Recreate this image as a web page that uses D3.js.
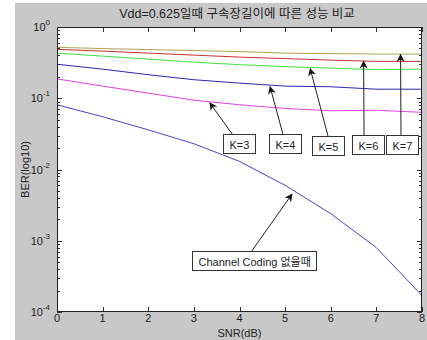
<!DOCTYPE html>
<html>
<head>
<meta charset="utf-8">
<script src="https://cdn.jsdelivr.net/npm/d3@7"></script>
<style>
  html, body { margin: 0; padding: 0; background: #ffffff; }
  svg { display: block; }
  text { font-family: "Liberation Sans", Arial, "Noto Sans CJK KR", sans-serif; }
</style>
</head>
<body>
<svg id="chart" width="427" height="340"></svg>
<script>
// SNR sample points (dB)
const snr = [0, 1, 2, 3, 4, 5, 6, 7, 8];

// BER per constraint length K, and without channel coding
const berK3 = [0.187, 0.148, 0.118, 0.094, 0.081, 0.072, 0.0667, 0.0678, 0.0635];
const berK4 = [0.300, 0.256, 0.214, 0.182, 0.163, 0.148, 0.145, 0.134, 0.134];
const berK5 = [0.430, 0.390, 0.354, 0.321, 0.296, 0.278, 0.265, 0.252, 0.256];
const berK6 = [0.485, 0.459, 0.430, 0.403, 0.378, 0.360, 0.343, 0.329, 0.329];
const berK7 = [0.518, 0.498, 0.482, 0.467, 0.452, 0.430, 0.423, 0.417, 0.417];
const berUncoded = [0.081, 0.055, 0.036, 0.023, 0.013, 0.006, 0.0024, 0.0008, 0.00017];

// Tick values
const xTicks = [0, 1, 2, 3, 4, 5, 6, 7, 8];
const yTickExponents = [0, -1, -2, -3, -4];

// Annotation labels: text, box top-left (SNR, BER), arrow tail and head (SNR, BER)
const noteLabels = ["K=3", "K=4", "K=5", "K=6", "K=7", "Channel Coding 없을때"];
const noteBoxX = [3.64, 4.65, 5.59, 6.47, 7.21, 2.96];
const noteBoxY = [0.0315, 0.0315, 0.0295, 0.0305, 0.0305, 0.00072];
const noteTailX = [3.84, 4.95, 5.94, 6.73, 7.54, 4.27];
const noteTailY = [0.0315, 0.0315, 0.0295, 0.0305, 0.0305, 0.00072];
const noteHeadX = [3.35, 4.67, 5.55, 6.72, 7.53, 5.15];
const noteHeadY = [0.086, 0.145, 0.26, 0.33, 0.41, 0.0045];

const svg = d3.select("#chart");
const W = 427, H = 340;
const plot = { left: 57, right: 422, top: 27, bottom: 312 };

// figure background
svg.append("rect").attr("x", 15).attr("y", 3).attr("width", W - 15).attr("height", H - 3)
  .attr("fill", "#c8c8c8");

const x = d3.scaleLinear().domain([0, 8]).range([plot.left, plot.right]);
const y = d3.scaleLog().domain([1e-4, 1]).range([plot.bottom, plot.top]);

// axes area
svg.append("rect").attr("x", plot.left).attr("y", plot.top)
  .attr("width", plot.right - plot.left).attr("height", plot.bottom - plot.top)
  .attr("fill", "#ffffff");

// ticks (inward on all four sides)
const tickG = svg.append("g").attr("stroke", "#333").attr("stroke-width", 1);
const majorLen = 5, minorLen = 3;
xTicks.forEach(t => {
  const px = Math.round(x(t)) + 0.5;
  tickG.append("line").attr("x1", px).attr("x2", px).attr("y1", plot.bottom).attr("y2", plot.bottom - majorLen);
  tickG.append("line").attr("x1", px).attr("x2", px).attr("y1", plot.top).attr("y2", plot.top + majorLen);
});
const yMinor = [];
for (let e = -4; e < 0; e++) for (let m = 2; m <= 9; m++) yMinor.push(m * Math.pow(10, e));
yMinor.forEach(v => {
  const py = Math.round(y(v)) + 0.5;
  tickG.append("line").attr("x1", plot.left).attr("x2", plot.left + minorLen).attr("y1", py).attr("y2", py);
  tickG.append("line").attr("x1", plot.right).attr("x2", plot.right - minorLen).attr("y1", py).attr("y2", py);
});
yTickExponents.forEach(e => {
  const py = Math.round(y(Math.pow(10, e))) + 0.5;
  tickG.append("line").attr("x1", plot.left).attr("x2", plot.left + majorLen).attr("y1", py).attr("y2", py);
  tickG.append("line").attr("x1", plot.right).attr("x2", plot.right - majorLen).attr("y1", py).attr("y2", py);
});

// series lines
const line = d3.line().x((d, i) => x(snr[i])).y(d => y(d));
const series = [
  { v: berUncoded, c: "#4545c8" },
  { v: berK3, c: "#e040e0" },
  { v: berK4, c: "#2828a8" },
  { v: berK5, c: "#40e040" },
  { v: berK6, c: "#c83030" },
  { v: berK7, c: "#b0a050" }
];
series.forEach(s => {
  svg.append("path").datum(s.v).attr("d", line)
    .attr("fill", "none").attr("stroke", s.c).attr("stroke-width", 1);
});

// axes box
svg.append("rect").attr("x", plot.left + 0.5).attr("y", plot.top + 0.5)
  .attr("width", plot.right - plot.left - 1).attr("height", plot.bottom - plot.top - 1)
  .attr("fill", "none").attr("stroke", "#222").attr("stroke-width", 1);

// x tick labels
xTicks.forEach(t => {
  svg.append("text").attr("x", x(t)).attr("y", plot.bottom + 10)
    .attr("text-anchor", "middle").attr("font-size", 11).attr("fill", "#222").text(t);
});
// y tick labels 10^e
yTickExponents.forEach(e => {
  const t = svg.append("text").attr("x", plot.left - 7).attr("y", y(Math.pow(10, e)) + 4)
    .attr("text-anchor", "end").attr("font-size", 11).attr("fill", "#222");
  t.append("tspan").text("10");
  t.append("tspan").attr("dy", -6).attr("font-size", 8).text(String(e));
});

// axis titles
svg.append("text").attr("x", (plot.left + plot.right) / 2).attr("y", 337)
  .attr("text-anchor", "middle").attr("font-size", 11).attr("fill", "#222").text("SNR(dB)");
svg.append("text").attr("transform", `translate(29,${(plot.top + plot.bottom) / 2}) rotate(-90)`)
  .attr("text-anchor", "middle").attr("font-size", 11).attr("fill", "#222").text("BER(log10)");
svg.append("text").attr("x", 237).attr("y", 18)
  .attr("text-anchor", "middle").attr("font-size", 12.5).attr("fill", "#222")
  .text("Vdd=0.625일때 구속장길이에 따른 성능 비교");

// annotations
const defs = svg.append("defs");
defs.append("marker").attr("id", "ah").attr("viewBox", "0 0 10 10")
  .attr("refX", 9).attr("refY", 5).attr("markerWidth", 10).attr("markerHeight", 8)
  .attr("markerUnits", "userSpaceOnUse").attr("orient", "auto")
  .append("path").attr("d", "M0,0 L10,5 L0,10 L3,5 Z").attr("fill", "#111");

const noteG = svg.append("g");
noteLabels.forEach((lab, i) => {
  noteG.append("line")
    .attr("x1", x(noteTailX[i])).attr("y1", y(noteTailY[i]))
    .attr("x2", x(noteHeadX[i])).attr("y2", y(noteHeadY[i]))
    .attr("stroke", "#222").attr("stroke-width", 1).attr("marker-end", "url(#ah)");
  const bx = Math.round(x(noteBoxX[i])) + 0.5, by = Math.round(y(noteBoxY[i])) + 0.5;
  const t = noteG.append("text").attr("x", bx + 6).attr("y", by + 14)
    .attr("font-size", 11).attr("fill", "#222").text(lab);
  const w = t.node().getComputedTextLength();
  noteG.insert("rect", "text").attr("x", bx).attr("y", by)
    .attr("width", Math.round(w + 12)).attr("height", 19)
    .attr("fill", "#ffffff").attr("stroke", "#333").attr("stroke-width", 1);
});
</script>
</body>
</html>
